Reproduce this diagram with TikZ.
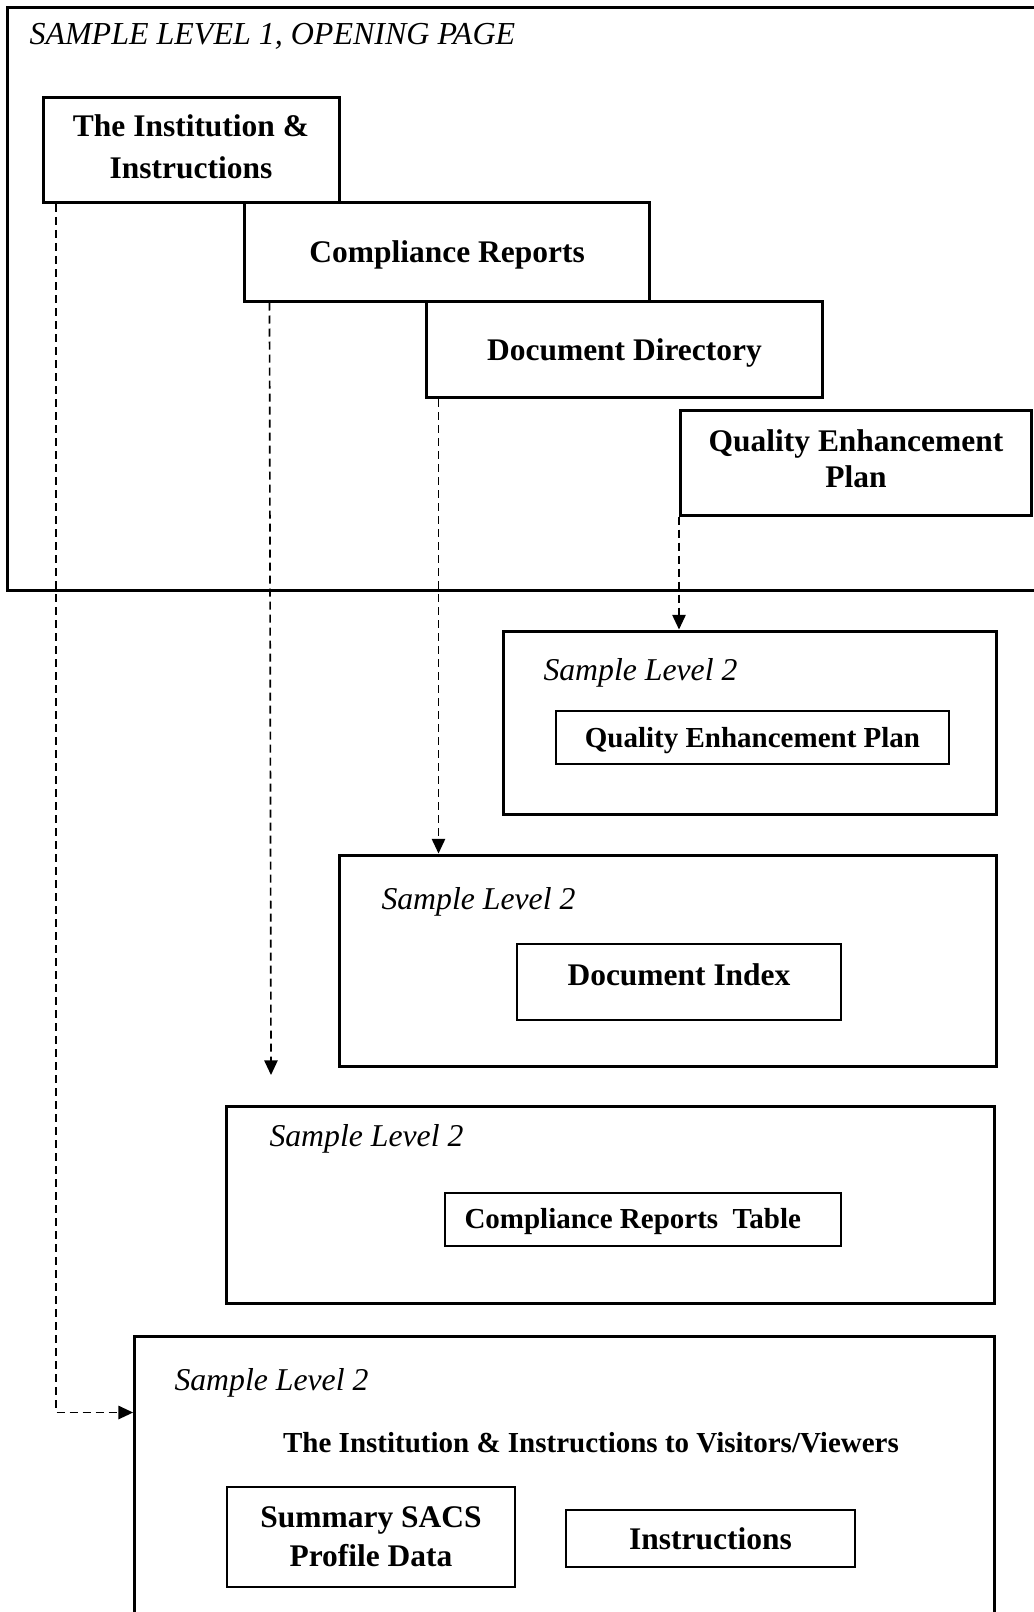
\documentclass[tikz,border=0pt]{standalone}
\usepackage{fontspec}
\setmainfont{Liberation Serif}
\usetikzlibrary{arrows.meta,calc,fit,positioning}

\tikzset{every picture/.style={line width=0.75pt}}
\tikzset{
  panel/.style={draw, line width=2.25pt, inner sep=0pt},
  inbox/.style={draw, line width=1.5pt, inner sep=0pt},
  bigbold/.style={font=\fontsize{23.6}{27}\selectfont\bfseries, align=center, inner sep=0pt},
  smallbold/.style={font=\fontsize{21.75}{26}\selectfont\bfseries, align=center, inner sep=0pt},
  leveltag/.style={font=\fontsize{23.8}{28}\selectfont\itshape, inner sep=0pt, anchor=west},
  flow/.style={line width=1.25pt, dash pattern={on 6pt off 3.75pt}, -{Triangle[width=10pt,length=11pt]}},
}

\begin{document}
\begin{tikzpicture}[x=0.75pt,y=0.75pt,yscale=-1,xscale=1]
\useasboundingbox (0,0) rectangle (1033,1612);

%Shape: Rectangle (level 1 page)
\node[panel, fit={(7.5,7.5) (1070,590)}] (lvOne) {};
% Text Node
\node[leveltag, font=\fontsize{24}{28}\selectfont\itshape] (lvOneTitle) at (29,36) {SAMPLE LEVEL 1, OPENING PAGE};

%Shape: Rectangle (level 1 tabs)
\node[panel, fit={(43,98) (339,202.5)}] (boxInst) {};
\node[panel, fit={(244.6,202.5) (649.6,301)}] (boxComp) {};
\node[panel, fit={(426.6,301) (822.3,397.8)}] (boxDir) {};
\node[panel, fit={(680.5,410) (1031.5,515)}] (boxQep) {};
% Text Node
\node[bigbold] (txtInst) at ($(boxInst.center)+(0,-3)$) {The Institution \&\\[4.5pt] Instructions};
\node[bigbold] (txtComp) at ($(boxComp.center)+(0,3)$) {Compliance Reports};
\node[bigbold] (txtDir) at ($(boxDir.center)+(0,4)$) {Document Directory};
\node[bigbold] (txtQep) at ($(boxQep.center)+(0,-4)$) {Quality Enhancement\\ Plan};

%Shape: Rectangle (level 2 pages)
\node[panel, fit={(503.7,631) (996,814)}] (lvQep) {};
\node[panel, fit={(339,855) (996,1066)}] (lvIdx) {};
\node[panel, fit={(226,1106) (994,1303)}] (lvTab) {};
\node[panel, fit={(134.6,1336) (994,1660)}] (lvInst) {};

% Text Node
\node[leveltag] (tagQep) at (543,673) {Sample Level 2};
\node[leveltag] (tagIdx) at (381,902) {Sample Level 2};
\node[leveltag] (tagTab) at (269,1139) {Sample Level 2};
\node[leveltag] (tagInst) at (174,1382.5) {Sample Level 2};

%Shape: Rectangle (inner boxes)
\node[inbox, fit={(556,711) (949,764)}] (inQep) {};
\node[inbox, fit={(517,943.6) (841,1019.7)}] (inIdx) {};
\node[inbox, fit={(445,1193.4) (841,1246)}] (inTab) {};
\node[inbox, fit={(227,1487) (515,1587)}] (inSum) {};
\node[inbox, fit={(566,1510) (855,1566.6)}] (inIns) {};
% Text Node
\node[smallbold] (txtInQep) at ($(inQep.center)+(0,3)$) {Quality Enhancement Plan};
\node[bigbold] (txtIdx) at ($(inIdx.center)+(0,-7)$) {Document Index};
\node[smallbold, anchor=west] (txtTab) at ($(inTab.west)+(20,2)$) {Compliance Reports\ \ Table};
\node[smallbold] (headInst) at (591,1443) {The Institution \& Instructions to Visitors/Viewers};
\node[bigbold] (txtSum) at (inSum.center) {Summary SACS\\[2pt] Profile Data};
\node[bigbold] (txtIns) at (inIns.center) {Instructions};

%Arrows
\coordinate (compTip) at (271,1075);
\draw[flow] ($(boxInst.south west)+(14.6,0)$) |- ($(lvInst.north west)+(0,78)$);
\draw[flow] ($(boxComp.south west)+(26.4,0)$) -- (compTip);
\draw[flow] ($(boxDir.south west)+(13.4,0)$) coordinate (dirFoot) -- (dirFoot |- lvIdx.north);
\draw[flow] (boxQep.south west) -- (boxQep.south west |- lvQep.north);

\end{tikzpicture}
\end{document}
